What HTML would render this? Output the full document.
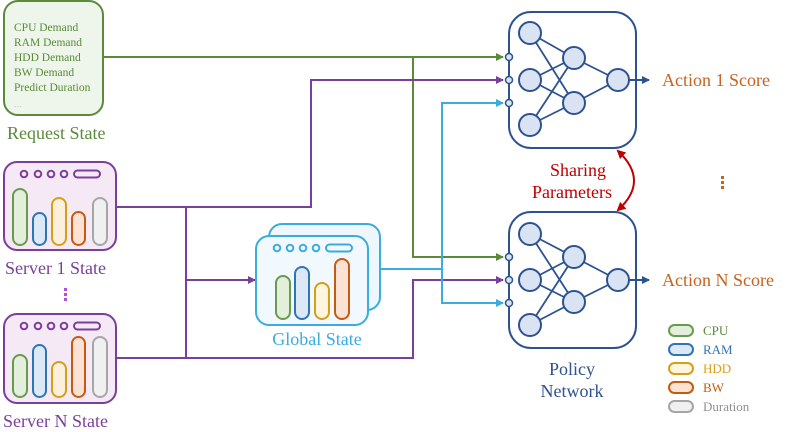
<!DOCTYPE html>
<html><head><meta charset="utf-8"><style>
html,body{margin:0;padding:0;background:#fff;}
svg{display:block;}
svg text{font-family:"Liberation Serif","Times New Roman","DejaVu Serif",serif;}
</style></head><body>
<svg width="790" height="432" viewBox="0 0 790 432" xmlns="http://www.w3.org/2000/svg" font-family="Liberation Serif, DejaVu Serif, serif">
<defs>
<marker id="ag" markerWidth="8" markerHeight="8" refX="7" refY="4" orient="auto" markerUnits="userSpaceOnUse"><path d="M0,0 L8,4 L0,8 Z" fill="#5a8a3a"/></marker>
<marker id="ap" markerWidth="8" markerHeight="8" refX="7" refY="4" orient="auto" markerUnits="userSpaceOnUse"><path d="M0,0 L8,4 L0,8 Z" fill="#7a3f9a"/></marker>
<marker id="ac" markerWidth="8" markerHeight="8" refX="7" refY="4" orient="auto" markerUnits="userSpaceOnUse"><path d="M0,0 L8,4 L0,8 Z" fill="#3aace0"/></marker>
<marker id="ab" markerWidth="8" markerHeight="8" refX="7" refY="4" orient="auto" markerUnits="userSpaceOnUse"><path d="M0,0 L8,4 L0,8 Z" fill="#2c5290"/></marker>
<marker id="ar" markerWidth="9" markerHeight="9" refX="7" refY="4.5" orient="auto-start-reverse" markerUnits="userSpaceOnUse"><path d="M0,0 L9,4.5 L0,9 Z" fill="#c00000"/></marker>
</defs>

<rect x="4" y="1" width="99" height="114" rx="14" fill="#eef5ea" stroke="#5a8a3a" stroke-width="2"/>
<g fill="#5a8a3a" font-size="11.5">
<text x="14" y="31">CPU Demand</text>
<text x="14" y="46">RAM Demand</text>
<text x="14" y="61">HDD Demand</text>
<text x="14" y="76">BW Demand</text>
<text x="14" y="91">Predict Duration</text>
<text x="14" y="107" fill="#a8c89a" font-size="8">…</text>
</g>
<text x="7" y="139" font-size="18" fill="#5a8a3a">Request State</text>

<g fill="none" stroke-width="2">
<path d="M103,57 H503" stroke="#5a8a3a" marker-end="url(#ag)"/>
<path d="M413,57 V257 H503" stroke="#5a8a3a" marker-end="url(#ag)"/>
<path d="M116,207 H311 V80 H503" stroke="#7a3f9a" marker-end="url(#ap)"/>
<path d="M186,207 V358" stroke="#7a3f9a"/>
<path d="M186,280 H255" stroke="#7a3f9a" marker-end="url(#ap)"/>
<path d="M116,358 H413 V280 H503" stroke="#7a3f9a" marker-end="url(#ap)"/>
<path d="M503,103 H442 V303 H503" stroke="#3aace0" marker-end="url(#ac)"/>
<path d="M442,103 H503" stroke="#3aace0" marker-end="url(#ac)"/>
<path d="M380,269 H442" stroke="#3aace0"/>
</g>

<rect x="4" y="162" width="112" height="88" rx="13" fill="#f6e9f6" stroke="#7a3f9a" stroke-width="2"/>
<g fill="none" stroke="#7a3f9a" stroke-width="2">
<circle cx="24" cy="174" r="3.3"/><circle cx="38" cy="174" r="3.3"/><circle cx="51" cy="174" r="3.3"/><circle cx="64" cy="174" r="3.3"/>
<rect x="74" y="170.5" width="26" height="7" rx="3.5"/>
</g>
<g stroke-width="2">
<rect x="13" y="189" width="14" height="56" rx="7" fill="#e2efda" stroke="#6a9a50"/>
<rect x="33" y="213" width="13" height="32" rx="6.5" fill="#dce8f5" stroke="#2f75b5"/>
<rect x="52" y="198" width="14" height="47" rx="7" fill="#fcefdd" stroke="#d4a017"/>
<rect x="72" y="212" width="13" height="33" rx="6.5" fill="#fbe2d5" stroke="#c55a11"/>
<rect x="93" y="198" width="14" height="47" rx="7" fill="#f0f0f0" stroke="#a6a6a6"/>
</g>
<text x="5" y="274" font-size="18" fill="#7a3f9a">Server 1 State</text>
<g fill="#b050e0"><rect x="64" y="288" width="3" height="3"/><rect x="64" y="293" width="3" height="3"/><rect x="64" y="298" width="3" height="3"/></g>

<rect x="4" y="314" width="112" height="89" rx="13" fill="#f6e9f6" stroke="#7a3f9a" stroke-width="2"/>
<g fill="none" stroke="#7a3f9a" stroke-width="2">
<circle cx="24" cy="326" r="3.3"/><circle cx="38" cy="326" r="3.3"/><circle cx="51" cy="326" r="3.3"/><circle cx="64" cy="326" r="3.3"/>
<rect x="74" y="322.5" width="26" height="7" rx="3.5"/>
</g>
<g stroke-width="2">
<rect x="13" y="355" width="14" height="42" rx="7" fill="#e2efda" stroke="#6a9a50"/>
<rect x="33" y="345" width="13" height="52" rx="6.5" fill="#dce8f5" stroke="#2f75b5"/>
<rect x="52" y="362" width="14" height="35" rx="7" fill="#fcefdd" stroke="#d4a017"/>
<rect x="72" y="337" width="13" height="60" rx="6.5" fill="#fbe2d5" stroke="#c55a11"/>
<rect x="93" y="337" width="14" height="60" rx="7" fill="#f0f0f0" stroke="#a6a6a6"/>
</g>
<text x="3" y="427" font-size="18" fill="#7a3f9a">Server N State</text>

<rect x="269" y="224" width="111" height="86" rx="13" fill="#eef7fd" stroke="#3aace0" stroke-width="2"/>
<rect x="256" y="236" width="112" height="89" rx="13" fill="#f2f9fe" stroke="#3aace0" stroke-width="2"/>
<g fill="none" stroke="#3aace0" stroke-width="2">
<circle cx="277" cy="248" r="3.3"/><circle cx="290" cy="248" r="3.3"/><circle cx="303" cy="248" r="3.3"/><circle cx="316" cy="248" r="3.3"/>
<rect x="326" y="244.5" width="26" height="7" rx="3.5"/>
</g>
<g stroke-width="2">
<rect x="276" y="276" width="14" height="43" rx="7" fill="#e2efda" stroke="#6a9a50"/>
<rect x="295" y="267" width="14" height="52" rx="7" fill="#dce8f5" stroke="#2f75b5"/>
<rect x="315" y="283" width="14" height="36" rx="7" fill="#fdf5dd" stroke="#d4a017"/>
<rect x="335" y="259" width="14" height="60" rx="7" fill="#fbe2d5" stroke="#c55a11"/>
</g>
<text x="317" y="345" font-size="18" fill="#3aace0" text-anchor="middle">Global State</text>

<g stroke="#2c5290" stroke-width="2">
<rect x="509" y="12" width="127" height="136" rx="22" fill="#fff"/>
<path stroke-width="1.8" d="M530,33 L574,58 M530,33 L574,103 M530,80 L574,58 M530,80 L574,103 M530,125 L574,58 M530,125 L574,103 M574,58 L618,80 M574,103 L618,80"/>
<g fill="#dae3f3">
<circle cx="530" cy="33" r="11"/><circle cx="530" cy="80" r="11"/><circle cx="530" cy="125" r="11"/>
<circle cx="574" cy="58" r="11"/><circle cx="574" cy="103" r="11"/><circle cx="618" cy="80" r="11"/>
</g>
<g fill="#dae3f3" stroke-width="1.5"><circle cx="509" cy="57" r="3.5"/><circle cx="509" cy="80" r="3.5"/><circle cx="509" cy="103" r="3.5"/></g>
<path d="M629,80 H649" marker-end="url(#ab)"/>
</g>
<text x="662" y="86" font-size="18" fill="#c8621e">Action 1 Score</text>

<g stroke="#2c5290" stroke-width="2">
<rect x="509" y="212" width="127" height="136" rx="22" fill="#fff"/>
<path stroke-width="1.8" d="M530,234 L574,257 M530,234 L574,302 M530,280 L574,257 M530,280 L574,302 M530,325 L574,257 M530,325 L574,302 M574,257 L618,280 M574,302 L618,280"/>
<g fill="#dae3f3">
<circle cx="530" cy="234" r="11"/><circle cx="530" cy="280" r="11"/><circle cx="530" cy="325" r="11"/>
<circle cx="574" cy="257" r="11"/><circle cx="574" cy="302" r="11"/><circle cx="618" cy="280" r="11"/>
</g>
<g fill="#dae3f3" stroke-width="1.5"><circle cx="509" cy="257" r="3.5"/><circle cx="509" cy="280" r="3.5"/><circle cx="509" cy="303" r="3.5"/></g>
<path d="M629,280 H649" marker-end="url(#ab)"/>
</g>
<text x="662" y="286" font-size="18" fill="#c8621e">Action N Score</text>

<path d="M618,151 Q650,181 618,210" fill="none" stroke="#c00000" stroke-width="2" marker-start="url(#ar)" marker-end="url(#ar)"/>
<text x="578" y="176" font-size="18" fill="#c00000" text-anchor="middle">Sharing</text>
<text x="572" y="198" font-size="18" fill="#c00000" text-anchor="middle">Parameters</text>
<g fill="#c8621e"><rect x="721" y="176" width="3" height="3"/><rect x="721" y="181" width="3" height="3"/><rect x="721" y="186" width="3" height="3"/></g>

<text x="572" y="375" font-size="18" fill="#2c5290" text-anchor="middle">Policy</text>
<text x="572" y="397" font-size="18" fill="#2c5290" text-anchor="middle">Network</text>

<g stroke-width="2">
<rect x="669" y="325" width="24" height="11" rx="5.5" fill="#e2efda" stroke="#6a9a50"/>
<rect x="669" y="344" width="24" height="11" rx="5.5" fill="#dce8f5" stroke="#2f75b5"/>
<rect x="669" y="363" width="24" height="11" rx="5.5" fill="#fdf5dd" stroke="#d4a017"/>
<rect x="669" y="382" width="24" height="11" rx="5.5" fill="#fbe2d5" stroke="#c55a11"/>
<rect x="669" y="401" width="24" height="11" rx="5.5" fill="#f0f0f0" stroke="#a6a6a6"/>
</g>
<g font-size="13">
<text x="703" y="335" fill="#5a8a3a">CPU</text>
<text x="703" y="354" fill="#2f75b5">RAM</text>
<text x="703" y="373" fill="#d4a017">HDD</text>
<text x="703" y="392" fill="#c55a11">BW</text>
<text x="703" y="411" fill="#909090">Duration</text>
</g>
</svg>
</body></html>
